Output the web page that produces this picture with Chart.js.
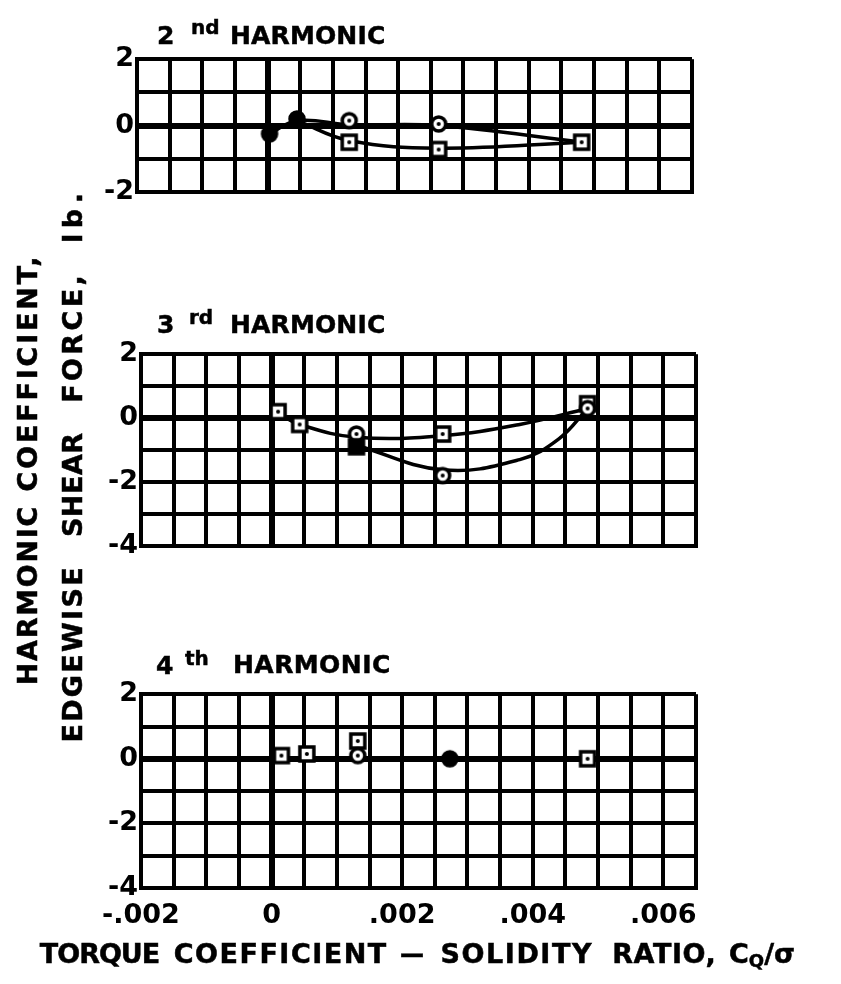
<!DOCTYPE html>
<html>
<head>
<meta charset="utf-8">
<script src="https://cdn.jsdelivr.net/npm/chart.js@4.4.1/dist/chart.umd.min.js"></script>
<style>
  html, body { margin: 0; padding: 0; background: #fff; }
  body { width: 841px; height: 984px; position: relative; overflow: hidden; font-family: "DejaVu Sans", sans-serif; font-weight: bold; color: #000; }
  .cv { position: absolute; left: 0; width: 841px; }
  .t { position: absolute; white-space: nowrap; line-height: 1; -webkit-text-stroke: 0.5px #000; }
  .big { font-size: 25px; }
  .sup { font-size: 20px; }
  .yw { position: absolute; white-space: nowrap; line-height: 1; font-size: 27px; -webkit-text-stroke: 0.5px #000; transform: translate(-50%, -50%) rotate(-90deg); }
  .xw { position: absolute; white-space: nowrap; line-height: 1; font-size: 27px; -webkit-text-stroke: 0.5px #000; transform: translate(-50%, 0); top: 940px; }
  .xw sub { font-size: 18px; position: relative; top: 4px; vertical-align: baseline; }
</style>
</head>
<body>
<canvas id="c1" class="cv" style="top:40px;height:172px" width="841" height="172"></canvas>
<canvas id="c2" class="cv" style="top:335px;height:230px" width="841" height="230"></canvas>
<canvas id="c3" class="cv" style="top:675px;height:280px" width="841" height="280"></canvas>

<!-- panel titles -->
<div class="t big" style="left:157px;top:23px">2</div>
<div class="t sup" style="left:191px;top:17px">nd</div>
<div class="t big fit" data-w="155" style="left:230px;top:23px">HARMONIC</div>

<div class="t big" style="left:157px;top:312px">3</div>
<div class="t sup" style="left:189px;top:307px">rd</div>
<div class="t big fit" data-w="155" style="left:230px;top:312px">HARMONIC</div>

<div class="t big" style="left:156px;top:653px">4</div>
<div class="t sup" style="left:185px;top:648px">th</div>
<div class="t big fit" data-w="157" style="left:233px;top:652px">HARMONIC</div>

<!-- y-axis title (two rotated lines) -->
<div class="yw fit" data-w="235" style="left:27px;top:374px">COEFFICIENT,</div>
<div class="yw fit" data-w="179" style="left:27px;top:596px">HARMONIC</div>
<div class="yw fit" data-w="50" style="left:72px;top:218px">lb.</div>
<div class="yw fit" data-w="128" style="left:72px;top:339px">FORCE,</div>
<div class="yw fit" data-w="104" style="left:72px;top:485px">SHEAR</div>
<div class="yw fit" data-w="175" style="left:72px;top:655px">EDGEWISE</div>

<!-- x-axis title -->
<div class="xw fit" data-w="120" style="left:100px">TORQUE</div>
<div class="xw fit" data-w="212" style="left:280px">COEFFICIENT</div>
<div class="xw" style="left:412px;font-size:24px;top:942px">—</div>
<div class="xw fit" data-w="151" style="left:516px">SOLIDITY</div>
<div class="xw fit" data-w="104" style="left:664px">RATIO,</div>
<div class="xw" style="left:762px">C<sub>Q</sub>/σ</div>

<script>
// ---------- DATA ----------
// x-axis (torque coefficient / solidity ratio)
const xMin = -0.002;
const xMax = 0.0065;
const xGridStep = 0.0005;
const xTickValues = [-0.002, 0, 0.002, 0.004, 0.006];
const xTickLabels = ['-.002', '0', '.002', '.004', '.006'];
// y-axes
const y2Range = [-2, 2];
const y3Range = [-4, 2];
const y4Range = [-4, 2];
const yTickValues = [2, 0, -2, -4];
const yTickLabels = ['2', '0', '-2', '-4'];

// 2nd harmonic
const h2FilledCircleX = [0.00003, 0.00045];
const h2FilledCircleY = [-0.25, 0.2];
const h2CircleX = [0.00125, 0.00262];
const h2CircleY = [0.15, 0.05];
const h2SquareX = [0.00125, 0.00262, 0.00481];
const h2SquareY = [-0.5, -0.72, -0.5];
const h2UpperLineX = [0.00003, 0.00045, 0.00125, 0.00262, 0.00481];
const h2UpperLineY = [-0.25, 0.15, 0.03, 0.0, -0.5];
const h2LowerLineX = [0.00045, 0.00125, 0.00262, 0.00481];
const h2LowerLineY = [0.15, -0.45, -0.68, -0.5];

// 3rd harmonic
const h3SquareX = [0.0001, 0.00043, 0.00262, 0.00484];
const h3SquareY = [0.2, -0.2, -0.5, 0.45];
const h3CircleX = [0.0013, 0.00262, 0.00484];
const h3CircleY = [-0.5, -1.8, 0.3];
const h3FilledSquareX = [0.0013];
const h3FilledSquareY = [-0.9];
const h3UpperLineX = [0.0001, 0.00043, 0.0013, 0.00262, 0.0038, 0.00484];
const h3UpperLineY = [0.15, -0.2, -0.6, -0.55, -0.2, 0.3];
const h3LowerLineX = [0.0013, 0.00262, 0.0038, 0.0044, 0.00484];
const h3LowerLineY = [-0.85, -1.62, -1.3, -0.65, 0.3];

// 4th harmonic
const h4SquareX = [0.00015, 0.00054, 0.00132, 0.00484];
const h4SquareY = [0.1, 0.15, 0.55, 0.0];
const h4CircleX = [0.00132];
const h4CircleY = [0.1];
const h4FilledCircleX = [0.00273];
const h4FilledCircleY = [0.0];

// ---------- TEXT FITTING ----------
document.querySelectorAll('.fit').forEach(el => {
  const target = parseFloat(el.dataset.w);
  el.style.letterSpacing = '0px';
  const w = el.offsetWidth;
  const n = [...el.textContent].length;
  if (n > 1) {
    const ls = (target - w) / (n - 1);
    el.style.letterSpacing = ls + 'px';
    if (el.classList.contains('yw') || el.classList.contains('xw')) el.style.textIndent = ls + 'px';
  }
});

// ---------- HELPERS ----------
function pts(xs, ys) { return xs.map((x, i) => ({ x: x, y: ys[i] })); }

function makeMarker(shape, filled) {
  const s = 22, c = document.createElement('canvas');
  c.width = s; c.height = s;
  const g = c.getContext('2d');
  g.lineWidth = 3.5; g.strokeStyle = '#000'; g.fillStyle = filled ? '#000' : '#fff';
  if (shape === 'circle') {
    g.beginPath(); g.arc(s / 2, s / 2, 7, 0, Math.PI * 2); g.fill(); g.stroke();
  } else {
    g.fillRect(4, 4, 14, 14); g.strokeRect(4, 4, 14, 14);
  }
  if (!filled) {
    g.fillStyle = '#000'; g.beginPath(); g.arc(s / 2, s / 2, 2, 0, Math.PI * 2); g.fill();
  }
  return c;
}
const mCircle = makeMarker('circle', false);
const mCircleF = makeMarker('circle', true);
const mSquare = makeMarker('rect', false);
const mSquareF = makeMarker('rect', true);

function lineDs(xs, ys) {
  return { data: pts(xs, ys), showLine: true, borderColor: '#000', borderWidth: 3.5,
           tension: 0.4, pointRadius: 0, pointHoverRadius: 0, fill: false, order: 2 };
}
function markerDs(xs, ys, style) {
  return { data: pts(xs, ys), showLine: false, pointStyle: style, pointRadius: 11,
           pointHoverRadius: 11, order: 1 };
}

function near(a, b) { return Math.abs(a - b) < 1e-9; }
const tickFont = { family: 'DejaVu Sans', size: 27, weight: 'bold' };
const gridWidth = (c) => (c.tick && near(c.tick.value, 0)) ? 6 : 4;

function makeChart(id, datasets, yRange, showX, pad, yWidth, xHeight) {
  return new Chart(document.getElementById(id), {
    type: 'scatter',
    data: { datasets: datasets },
    options: {
      responsive: false, animation: false, events: [],
      layout: { padding: pad },
      plugins: { legend: { display: false }, tooltip: { enabled: false }, title: { display: false } },
      scales: {
        x: {
          type: 'linear', min: xMin, max: xMax,
          afterFit: (s) => { s.height = xHeight; },
          ticks: {
            display: showX, stepSize: xGridStep, maxTicksLimit: 100, autoSkip: false,
            maxRotation: 0, minRotation: 0, padding: 12, color: '#000', font: tickFont,
            callback: (v) => { const i = xTickValues.findIndex(t => near(t, v)); return i >= 0 ? xTickLabels[i] : ''; }
          },
          grid: { color: '#000', drawTicks: false, lineWidth: gridWidth },
          border: { display: true, color: '#000', width: 4 }
        },
        y: {
          type: 'linear', min: yRange[0], max: yRange[1],
          afterFit: (s) => { s.width = yWidth; },
          ticks: {
            stepSize: 1, autoSkip: false, padding: 3, color: '#000', font: tickFont,
            callback: (v) => { const i = yTickValues.findIndex(t => near(t, v)); return i >= 0 ? yTickLabels[i] : ''; }
          },
          grid: { color: '#000', drawTicks: false, lineWidth: gridWidth },
          border: { display: true, color: '#000', width: 4 }
        }
      }
    }
  });
}

makeChart('c1', [
  lineDs(h2UpperLineX, h2UpperLineY),
  lineDs(h2LowerLineX, h2LowerLineY),
  markerDs(h2FilledCircleX, h2FilledCircleY, mCircleF),
  markerDs(h2CircleX, h2CircleY, mCircle),
  markerDs(h2SquareX, h2SquareY, mSquare)
], y2Range, false, { left: 87, right: 149, top: 18, bottom: 20 }, 50, 0);

makeChart('c2', [
  lineDs(h3UpperLineX, h3UpperLineY),
  lineDs(h3LowerLineX, h3LowerLineY),
  markerDs(h3FilledSquareX, h3FilledSquareY, mSquareF),
  markerDs(h3CircleX, h3CircleY, mCircle),
  markerDs(h3SquareX, h3SquareY, mSquare)
], y3Range, false, { left: 91, right: 145, top: 17, bottom: 17 }, 50, 0);

makeChart('c3', [
  markerDs(h4FilledCircleX, h4FilledCircleY, mCircleF),
  markerDs(h4CircleX, h4CircleY, mCircle),
  markerDs(h4SquareX, h4SquareY, mSquare)
], y4Range, true, { left: 91, right: 145, top: 17, bottom: 17 }, 50, 50);
</script>
</body>
</html>
